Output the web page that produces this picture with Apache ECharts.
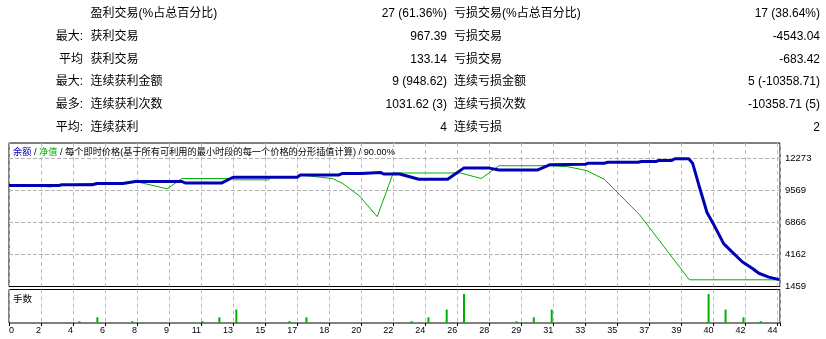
<!DOCTYPE html>
<html>
<head>
<meta charset="utf-8">
<title>测试报告</title>
<script src="https://cdn.jsdelivr.net/npm/echarts@6/dist/echarts.min.js"></script>
<style>
  html, body { margin: 0; padding: 0; background: #fff; }
  #chart { width: 826px; height: 339px; }
</style>
</head>
<body>
<div id="chart"></div>
<script>
// ---- 统计表 ----
const statLeft = ['', '最大:', '平均', '最大:', '最多:', '平均:'];
const statWinName = ['盈利交易(%占总百分比)', '获利交易', '获利交易', '连续获利金额', '连续获利次数', '连续获利'];
const statWinValue = ['27 (61.36%)', '967.39', '133.14', '9 (948.62)', '1031.62 (3)', '4'];
const statLossName = ['亏损交易(%占总百分比)', '亏损交易', '亏损交易', '连续亏损金额', '连续亏损次数', '连续亏损'];
const statLossValue = ['17 (38.64%)', '-4543.04', '-683.42', '5 (-10358.71)', '-10358.71 (5)', '2'];

// ---- 曲线 (x = 图上的网格位置) ----
const balancePos = [0, 1.55, 1.65, 2.6, 2.75, 3.55, 3.95, 5.4, 5.5, 6.65, 7.0, 9.0, 9.1, 10.3, 10.4, 11.0, 11.05, 11.6, 11.7, 12.2, 12.8, 13.7, 14.2, 15.0, 15.3, 16.5, 16.9, 18.0, 18.1, 18.6, 18.7, 19.65, 19.75, 20.2, 20.3, 20.7, 20.8, 21.23, 21.35, 21.54, 21.8, 22.0, 22.32, 22.58, 22.9, 23.21, 23.42, 23.73, 24.06];
const balanceVal = [10000, 10000, 10050, 10050, 10160, 10160, 10330, 10330, 10210, 10210, 10690, 10690, 10880, 10880, 11000, 11000, 11100, 11100, 10960, 10960, 10520, 10520, 11460, 11460, 11300, 11300, 11750, 11790, 11880, 11880, 11960, 11960, 12020, 12020, 12100, 12100, 12250, 12250, 11880, 10080, 7715, 6747, 5083, 4382, 3550, 2996, 2580, 2250, 2040];

const equityPos = [0, 0.7, 0.72, 1.28, 1.3, 1.6, 1.62, 2.38, 2.4, 2.75, 3.55, 3.95, 4.0, 4.94, 5.4, 6.95, 7.05, 8.1, 8.2, 9.0, 9.1, 10.1, 10.4, 10.95, 11.5, 12.0, 14.1, 14.75, 15.3, 16.9, 17.45, 18.05, 18.6, 19.06, 19.7, 21.25, 24.06];
const equityVal = [10000, 10000, 9870, 9870, 10000, 10000, 10140, 10140, 10100, 10160, 10160, 10330, 10330, 9714, 10580, 10580, 10470, 10470, 10690, 10690, 10880, 10580, 10200, 9100, 7360, 11050, 11050, 10580, 11663, 11663, 11580, 11247, 10497, 9247, 7500, 2025, 2025];

// ---- 手数 ----
const lotPos = [2.2, 2.76, 3.85, 6.04, 6.57, 7.10, 8.76, 9.29, 12.57, 13.10, 13.67, 14.21, 15.85, 16.39, 16.95, 21.85, 22.38, 22.94, 23.48];
const lotSize = [0.01, 0.02, 0.01, 0.01, 0.02, 0.04, 0.01, 0.02, 0.01, 0.02, 0.04, 0.08, 0.01, 0.02, 0.04, 0.08, 0.04, 0.02, 0.01];

// ---- 刻度 ----
const xTickLabels = ['0', '2', '4', '6', '8', '9', '11', '13', '15', '17', '18', '20', '22', '24', '26', '28', '29', '31', '33', '35', '37', '39', '40', '42', '44'];
const yTickValues = [1459, 4162, 6866, 9569, 12273];
const yMax = 13582.5;

const FONT = '"Liberation Sans", "Noto Sans CJK SC", sans-serif';
const BLUE = '#0000b4';
const GREEN = '#00b000';
const GRID_STYLE = { color: '#bdbdbd', type: [4, 3], width: 1 };
const GRIDLINE = { show: true, lineStyle: GRID_STYLE };

let chart = echarts.init(document.getElementById('chart'));

// 表格文字
const rowY = [14, 37, 59.5, 82, 105, 128];
let tableTexts = [];
rowY.forEach(function (y, i) {
  const cells = [
    [statLeft[i], 83, 'right'],
    [statWinName[i], 90.5, 'left'],
    [statWinValue[i], 447, 'right'],
    [statLossName[i], 454, 'left'],
    [statLossValue[i], 820, 'right']
  ];
  cells.forEach(function (c) {
    if (!c[0]) return;
    tableTexts.push({
      type: 'text',
      silent: true,
      style: {
        x: c[1], y: y, text: c[0], align: c[2], verticalAlign: 'middle',
        fill: '#000', fontSize: 12, fontFamily: FONT
      }
    });
  });
});

// 水平网格线: 跨越整个 x 范围的两点线段, 放在刻度值上
const xMax = 24.08;
const hGridSeries = yTickValues.slice(1).map(function (v, i) {
  return {
    id: 'hgrid' + i,
    name: 'hgrid' + i,
    type: 'line',
    xAxisIndex: 0, yAxisIndex: 0,
    z: 1,
    silent: true,
    showSymbol: false,
    symbol: 'none',
    lineStyle: { color: '#b4b4b4', type: 'dashed', dashOffset: 0, width: 1 },
    data: [[0, v], [xMax, v]]
  };
});

let option = {
  animation: false,
  backgroundColor: '#fff',
  graphic: tableTexts.concat([
    {
      type: 'text',
      silent: true,
      z: 10,
      style: {
        x: 13, y: 152, verticalAlign: 'middle',
        text: '{b|余额} / {g|净值} / 每个即时价格(基于所有可利用的最小时段的每一个价格的分形插值计算) / 90.00%',
        fill: '#000', fontSize: 9.2, fontFamily: FONT,
        rich: {
          b: { fill: BLUE, fontSize: 9.2, fontFamily: FONT },
          g: { fill: GREEN, fontSize: 9.2, fontFamily: FONT }
        }
      }
    },
    {
      type: 'text',
      silent: true,
      z: 10,
      style: {
        x: 13, y: 299, verticalAlign: 'middle', text: '手数',
        fill: '#000', fontSize: 9.5, fontFamily: FONT
      }
    }
  ]),
  grid: [
    { left: 9, right: 46, top: 143, height: 143.5, show: true, z: 0, borderColor: '#000', borderWidth: 1, containLabel: false },
    { left: 9, right: 46, top: 289.5, height: 33.5, show: true, z: 0, borderColor: '#000', borderWidth: 1, containLabel: false }
  ],
  xAxis: [
    {
      type: 'value', gridIndex: 0, min: 0, max: xMax, interval: 1,
      axisLine: { show: false }, axisTick: { show: false }, axisLabel: { show: false },
      splitLine: GRIDLINE
    },
    {
      type: 'value', gridIndex: 1, min: 0, max: xMax, interval: 1,
      axisLine: { show: false },
      axisTick: { show: true, length: 3, lineStyle: { color: '#000' } },
      axisLabel: {
        show: true, color: '#000', fontSize: 9, fontFamily: FONT, margin: 3,
        align: 'right', alignMinLabel: 'left',
        formatter: function (v) {
          return Number.isInteger(v) && xTickLabels[v] !== undefined ? xTickLabels[v] : '';
        }
      },
      splitLine: GRIDLINE
    }
  ],
  yAxis: [
    {
      type: 'value', gridIndex: 0, position: 'right', min: yTickValues[0], max: yMax,
      axisLine: { show: false },
      axisTick: { show: true, length: 3, customValues: yTickValues, lineStyle: { color: '#000' } },
      axisLabel: {
        show: true, color: '#000', fontSize: 9.5, fontFamily: FONT, margin: 5,
        customValues: yTickValues, padding: [4, 0, 0, 0],
        formatter: function (v) { return String(Math.round(v)); }
      },
      splitLine: { show: false }
    },
    {
      type: 'value', gridIndex: 1, min: 0.0053, max: 0.0916,
      axisLine: { show: false }, axisTick: { show: false }, axisLabel: { show: false },
      splitLine: { show: false }
    }
  ],
  series: hGridSeries.concat([
    {
      name: '净值',
      type: 'line',
      xAxisIndex: 0, yAxisIndex: 0,
      symbol: 'none',
      z: 2,
      lineStyle: { color: GREEN, width: 1 },
      data: equityPos.map(function (p, i) { return [p, equityVal[i]]; })
    },
    {
      name: '余额',
      type: 'line',
      xAxisIndex: 0, yAxisIndex: 0,
      symbol: 'none',
      z: 3,
      lineStyle: { color: BLUE, width: 3 },
      data: balancePos.map(function (p, i) { return [p, balanceVal[i]]; })
    },
    {
      name: '手数',
      type: 'bar',
      xAxisIndex: 1, yAxisIndex: 1,
      barWidth: 2,
      itemStyle: { color: GREEN },
      data: lotPos.map(function (p, i) { return [p, lotSize[i]]; })
    }
  ])
};
chart.setOption(option);
</script>
</body>
</html>
